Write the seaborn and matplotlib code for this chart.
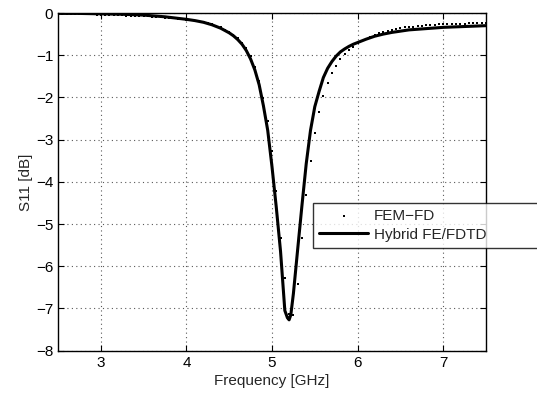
import numpy as np
import pandas as pd
import seaborn as sns
import matplotlib.pyplot as plt

# FEM-FD samples (every 0.05 GHz)
fem_freq = [2.50, 2.55, 2.60, 2.65, 2.70, 2.75, 2.80, 2.85, 2.90, 2.95,
            3.00, 3.05, 3.10, 3.15, 3.20, 3.25, 3.30, 3.35, 3.40, 3.45,
            3.50, 3.55, 3.60, 3.65, 3.70, 3.75, 3.80, 3.85, 3.90, 3.95,
            4.00, 4.05, 4.10, 4.15, 4.20, 4.25, 4.30, 4.35, 4.40, 4.45,
            4.50, 4.55, 4.60, 4.65, 4.70, 4.75, 4.80, 4.85, 4.90, 4.95,
            5.00, 5.05, 5.10, 5.15, 5.20, 5.25, 5.30, 5.35, 5.40, 5.45,
            5.50, 5.55, 5.60, 5.65, 5.70, 5.75, 5.80, 5.85, 5.90, 5.95,
            6.00, 6.05, 6.10, 6.15, 6.20, 6.25, 6.30, 6.35, 6.40, 6.45,
            6.50, 6.55, 6.60, 6.65, 6.70, 6.75, 6.80, 6.85, 6.90, 6.95,
            7.00, 7.05, 7.10, 7.15, 7.20, 7.25, 7.30, 7.35, 7.40, 7.45, 7.50]
fem_s11 = [-0.02, -0.02, -0.02, -0.02, -0.03, -0.03, -0.03, -0.03, -0.03, -0.04,
           -0.04, -0.04, -0.04, -0.05, -0.05, -0.05, -0.06, -0.06, -0.07, -0.07,
           -0.08, -0.08, -0.09, -0.10, -0.10, -0.11, -0.12, -0.13, -0.14, -0.15,
           -0.16, -0.17, -0.18, -0.20, -0.22, -0.24, -0.27, -0.31, -0.34, -0.40,
           -0.45, -0.52, -0.60, -0.70, -0.82, -1.02, -1.27, -1.62, -2.02, -2.55,
           -3.27, -4.21, -5.34, -6.27, -7.14, -7.16, -6.41, -5.34, -4.32, -3.50,
           -2.85, -2.35, -1.97, -1.67, -1.43, -1.26, -1.10, -0.97, -0.88, -0.80,
           -0.72, -0.66, -0.61, -0.56, -0.52, -0.48, -0.45, -0.42, -0.40, -0.38,
           -0.36, -0.34, -0.33, -0.32, -0.31, -0.30, -0.29, -0.28, -0.28, -0.27,
           -0.27, -0.26, -0.26, -0.25, -0.25, -0.25, -0.24, -0.24, -0.24, -0.23, -0.23]

# Hybrid FE/FDTD curve
hyb_freq = [2.50, 2.75, 3.00, 3.25, 3.50, 3.75, 4.00, 4.10, 4.20, 4.30,
            4.40, 4.50, 4.55, 4.60, 4.65, 4.70, 4.75, 4.80, 4.85, 4.90,
            4.95, 5.00, 5.05, 5.10, 5.15, 5.18, 5.20, 5.22, 5.25, 5.30,
            5.35, 5.40, 5.45, 5.50, 5.55, 5.60, 5.65, 5.70, 5.75, 5.80,
            5.85, 5.90, 5.95, 6.00, 6.10, 6.20, 6.30, 6.40, 6.60, 6.80,
            7.00, 7.25, 7.50]
hyb_s11 = [-0.01, -0.01, -0.02, -0.03, -0.05, -0.09, -0.15, -0.18, -0.22, -0.28,
           -0.36, -0.47, -0.54, -0.63, -0.74, -0.89, -1.09, -1.35, -1.70, -2.20,
           -2.78, -3.64, -4.60, -5.65, -7.05, -7.22, -7.27, -7.15, -6.65, -5.60,
           -4.56, -3.57, -2.78, -2.22, -1.86, -1.53, -1.31, -1.15, -1.02, -0.92,
           -0.85, -0.79, -0.74, -0.70, -0.62, -0.55, -0.50, -0.46, -0.40, -0.37,
           -0.34, -0.32, -0.30]

fem = pd.DataFrame({'f': fem_freq, 's11': fem_s11})
hyb = pd.DataFrame({'f': hyb_freq, 's11': hyb_s11})

sns.set_style('ticks')
plt.rcParams['font.family'] = ['Liberation Sans', 'DejaVu Sans']
plt.rcParams['font.size'] = 11

fig = plt.figure(figsize=(5.37, 3.94), dpi=100)
ax = fig.add_axes([0.108, 0.110, 0.797, 0.857])

sns.lineplot(data=hyb, x='f', y='s11', ax=ax, color='black', linewidth=2.2,
             label='Hybrid FE/FDTD', zorder=3)
sns.scatterplot(data=fem, x='f', y='s11', ax=ax, color='black', s=3,
                marker='s', linewidth=0, label='FEM\u2212FD', zorder=4)

ax.set_xlim(2.5, 7.5)
ax.set_ylim(-8, 0)
ax.set_xticks([3, 4, 5, 6, 7])
ax.set_yticks(np.arange(-8, 1, 1))
ax.grid(True, color='0.35', linestyle=(0, (1, 3)), linewidth=0.8)
ax.tick_params(direction='in', top=True, right=True, length=4, labelsize=11,
               colors='black')
for sp in ax.spines.values():
    sp.set_linewidth(1.0)
    sp.set_color('black')
ax.set_xlabel('Frequency [GHz]', fontsize=11, labelpad=3)
ax.set_ylabel('S11 [dB]', fontsize=11, labelpad=2)

h, l = ax.get_legend_handles_labels()
leg = ax.legend(h[::-1], l[::-1], loc='upper left',
                bbox_to_anchor=(0.596, 0.301, 0.55, 0.136), mode='expand',
                frameon=True, fancybox=False, edgecolor='black', fontsize=11,
                borderaxespad=0, handlelength=3.2, handletextpad=0.4,
                borderpad=0.4, labelspacing=0.3, markerscale=1.2)
leg.get_frame().set_linewidth(1.0)
leg.set_clip_on(False)

fig.savefig('out.png', dpi=100)
